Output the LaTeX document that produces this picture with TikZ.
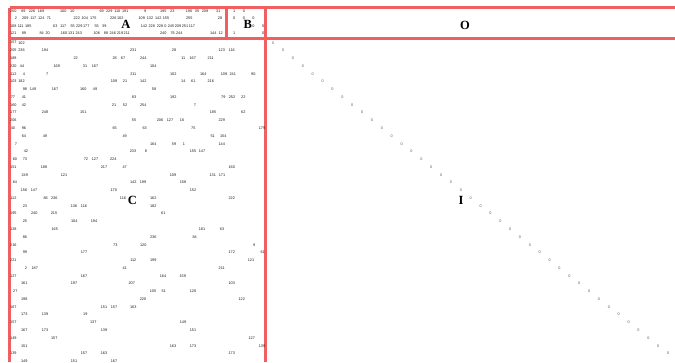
\documentclass[tikz,border=0pt]{standalone}
\usepackage{fontspec}
\setmainfont{Liberation Sans}
\newfontfamily\labfont{Liberation Serif}
\definecolor{gridred}{RGB}{240,96,96}
\begin{document}
\begin{tikzpicture}[x=1pt,y=-1pt,
  num/.style={inner sep=0pt,font=\fontsize{3.8}{4}\selectfont,text=black!90},
  diagnum/.style={num,text=black!65},
  lab/.style={inner sep=0pt,font=\labfont\bfseries\fontsize{12.5}{12.5}\selectfont},
  redline/.style={draw=gridred,line width=2.1pt}]
\useasboundingbox (0,0) rectangle (675,362);
% block dividers
\coordinate (tl) at (9.5,7.5);
\coordinate (tr) at (675,7.5);
\coordinate (bl) at (9.5,362);
\coordinate (ml) at (9.5,38.5);
\coordinate (mr) at (675,38.5);
\coordinate (abT) at (226.5,7.5);
\coordinate (abB) at (226.5,38.5);
\coordinate (boT) at (265.5,7.5);
\coordinate (boB) at (265.5,362);
\draw[redline] (tl) -- (tr);
\draw[redline] (tl) -- (bl);
\draw[redline] (ml) -- (mr);
\draw[redline] (abT) -- (abB);
\draw[redline] (boT) -- (boB);
% top rows (A and B)
\foreach \yy/\items [count=\r] in {
 11/{13.3/250,23.5/69,32/226,41/169,63.3/100,72.3/10,101.7/69,109.3/229,117.3/110,125.3/191,145.3/9,163.3/195,172.3/23,189/190,197/35,205/209,218.3/31,234.3/1,244/0},
 18.5/{16/2,25.3/209,33.3/117,41.3/124,49/71,76.7/222,84.7/104,93.3/175,113.3/226,120.3/102,141.7/109,150/132,158.3/142,166/155,189.3/255,220/28,234.3/0,244/0,253.5/0},
 26/{13.3/108,20.7/111,28.3/185,55.3/63,63.3/117,72.7/55,79.3/229,86.3/177,96.7/55,104.3/39,144/142,151.7/228,160/228,165.5/0,171/245,178/209,185/251,192/117,253.5/0,263.3/0},
 33.5/{13.3/121,24/89,41.7/84,47.7/20,64/160,71.3/131,78.7/243,96.7/106,106/88,112.7/246,120/219,126.7/211,163.3/240,172.7/76,179.3/244,213.3/144,220.7/12,234.3/1,263.3/0}}
{
  \foreach \xx/\tt [count=\j] in \items {
    \node[num] (t\r-\j) at (\xx,\yy) {\tt};
  }
}
% block C rows
\foreach \k/\items in {
 0/{13.4/157,21.5/102},
 1/{13.4/205,21.5/236,45/194,133.3/231,174/28,221.7/123,231.7/116},
 2/{13.4/188,75.7/22,114.7/28,123/67,143.3/244,183.3/11,192.7/167,210.7/211},
 3/{13.4/220,22/44,56.7/169,85/31,95/167,153.3/104},
 4/{13.4/112,24/4,47.3/7,133.3/211,173.3/102,203.3/164,224/109,232.7/241,253.3/90},
 5/{13.4/103,21.5/182,114/109,125/21,143.3/142,183.3/14,193.3/61,210.7/216},
 6/{25/98,33/149,55/167,83.3/160,95/49,154/58},
 7/{13/77,24/41,134/83,173.3/192,223.3/79,232/252,243.3/22},
 8/{13.4/160,24/42,114/21,125/52,143.3/254,195/7},
 9/{13.4/177,45/248,83.3/151,213/185,243.3/62},
 10/{13.4/206,134/55,160/206,170/127,182/16,221.7/229},
 11/{13/40,24/96,114.7/65,144.7/63,193.3/75,262/179},
 12/{24/64,45/49,124.7/49,212.7/51,223.3/154},
 13/{16/7,153.3/164,174/59,184/1,221.7/144},
 14/{26/42,133/233,146/8,193/155,202/147},
 15/{15/60,25/73,86/72,95/127,113.3/224},
 16/{13.4/151,44/188,104/217,124.7/47,231.7/160},
 17/{24.7/249,64/121,173/109,212.7/131,222/171},
 18/{15/64,133.3/142,143/199,183/158},
 19/{24/156,34/147,113.7/170,193/152},
 20/{13.4/112,45.7/86,54.3/236,123/116,153.3/162,231.7/222},
 21/{25/23,74/136,84/116,153.3/182},
 22/{13.4/195,34.3/240,54/215,163.3/61},
 23/{25/25,74.3/104,94/194},
 24/{13.4/128,54.7/165,202/181,222/63},
 25/{25/86,153.3/236,194.7/84},
 26/{13.4/216,115.3/73,143.3/120,254.3/9},
 27/{25/99,84/177,231.7/172,262.7/61},
 28/{13.4/221,133.3/112,153.3/199,251/121},
 29/{26/2,34.7/187,124.7/41,221.7/211},
 30/{13.4/127,84/167,163/164,182.7/159},
 31/{24.3/161,74/197,131.7/207,231.7/103},
 32/{15.3/27,153/105,163.7/51,193/120},
 33/{24.3/198,143/220,241.7/122},
 34/{13.4/167,104/151,114/157,133.3/163},
 35/{24.3/173,45/139,85.3/19},
 36/{13.4/157,93.3/137,183/149},
 37/{24.3/167,45/173,104/139,193/151},
 38/{13.4/149,54.3/157,251.7/127},
 39/{24.3/151,173/163,193/173,262/139},
 40/{13.4/139,84/157,104/163,231.7/173},
 41/{24.3/149,74/151,114/167}}
{
  \foreach \xx/\tt [count=\j] in \items {
    \node[num] (c\k-\j) at (\xx,{42.7+7.77*\k}) {\tt};
  }
}
% identity diagonal
\foreach \k in {0,...,40} {
  \node[diagnum] (d\k) at ({273.3+9.87*\k},{42.7+7.77*\k}) {0};
}
% block labels
\node[lab] (labA) at (126,24) {A};
\node[lab] (labB) at (247.7,24) {B};
\node[lab] (labO) at (465,25) {O};
\node[lab] (labC) at (132.3,200) {C};
\node[lab] (labI) at (461,200.7) {I};
\end{tikzpicture}
\end{document}
